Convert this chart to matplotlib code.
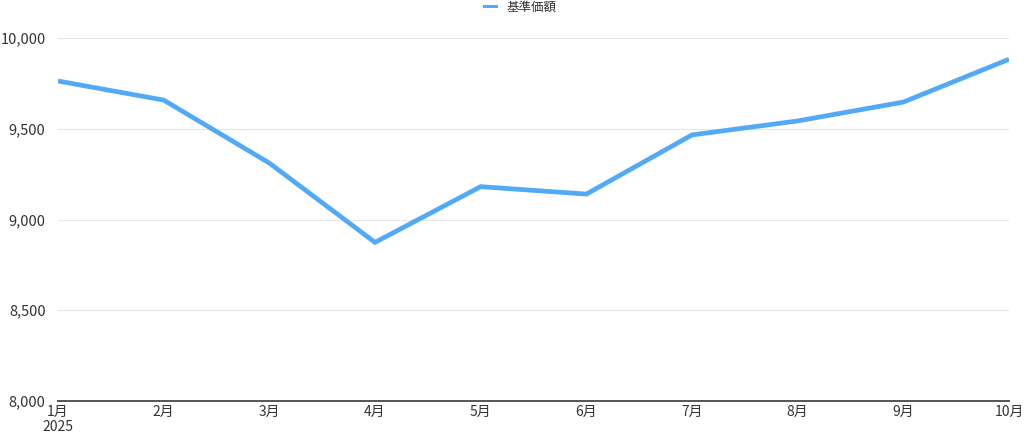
import matplotlib
matplotlib.use("Agg")
import matplotlib.pyplot as plt
from matplotlib.lines import Line2D
from matplotlib.ticker import FuncFormatter

plt.rcParams['font.family'] = ['Noto Sans CJK JP', 'DejaVu Sans']

# data
months = ['1月\n2025', '2月', '3月', '4月', '5月', '6月', '7月', '8月', '9月', '10月']
nav = [9763, 9658, 9311, 8874, 9181, 9140, 9466, 9543, 9647, 9883]
y_ticks = [8000, 8500, 9000, 9500, 10000]

line_color = '#52a9f5'
text_color = '#333333'

fig = plt.figure(figsize=(10.24, 4.36), dpi=100)
ax = fig.add_axes([58 / 1024, 35 / 436, 951 / 1024, 363 / 436])

x = list(range(len(months)))
ax.plot(x, nav, color=line_color, linewidth=3.4, solid_joinstyle='miter',
        solid_capstyle='butt', zorder=3)

ax.set_xlim(0, len(months) - 1)
ax.set_ylim(8000, 10000)
ax.set_yticks(y_ticks)
ax.yaxis.set_major_formatter(FuncFormatter(lambda v, p: f'{int(v):,}'))
ax.set_xticks(x)
ax.set_xticklabels(months, linespacing=1.1)

ax.grid(axis='y', color='#e6e6e6', linewidth=0.8)
ax.set_axisbelow(True)
for side in ['left', 'right', 'top']:
    ax.spines[side].set_visible(False)
ax.spines['bottom'].set_color('#555555')
ax.spines['bottom'].set_linewidth(1.4)
ax.spines['bottom'].set_zorder(4)

ax.tick_params(axis='both', length=0, colors=text_color)
ax.tick_params(axis='y', pad=9, labelsize=10.5)
ax.tick_params(axis='x', pad=3, labelsize=10)

handle = Line2D([], [], color=line_color, linewidth=2.2)
fig.legend([handle], ['基準価額'], loc='upper center', bbox_to_anchor=(0.508, 1.025),
           frameon=False, fontsize=9, handlelength=1.0, handletextpad=0.8,
           labelcolor=text_color)

fig.savefig('out.png', dpi=100)
